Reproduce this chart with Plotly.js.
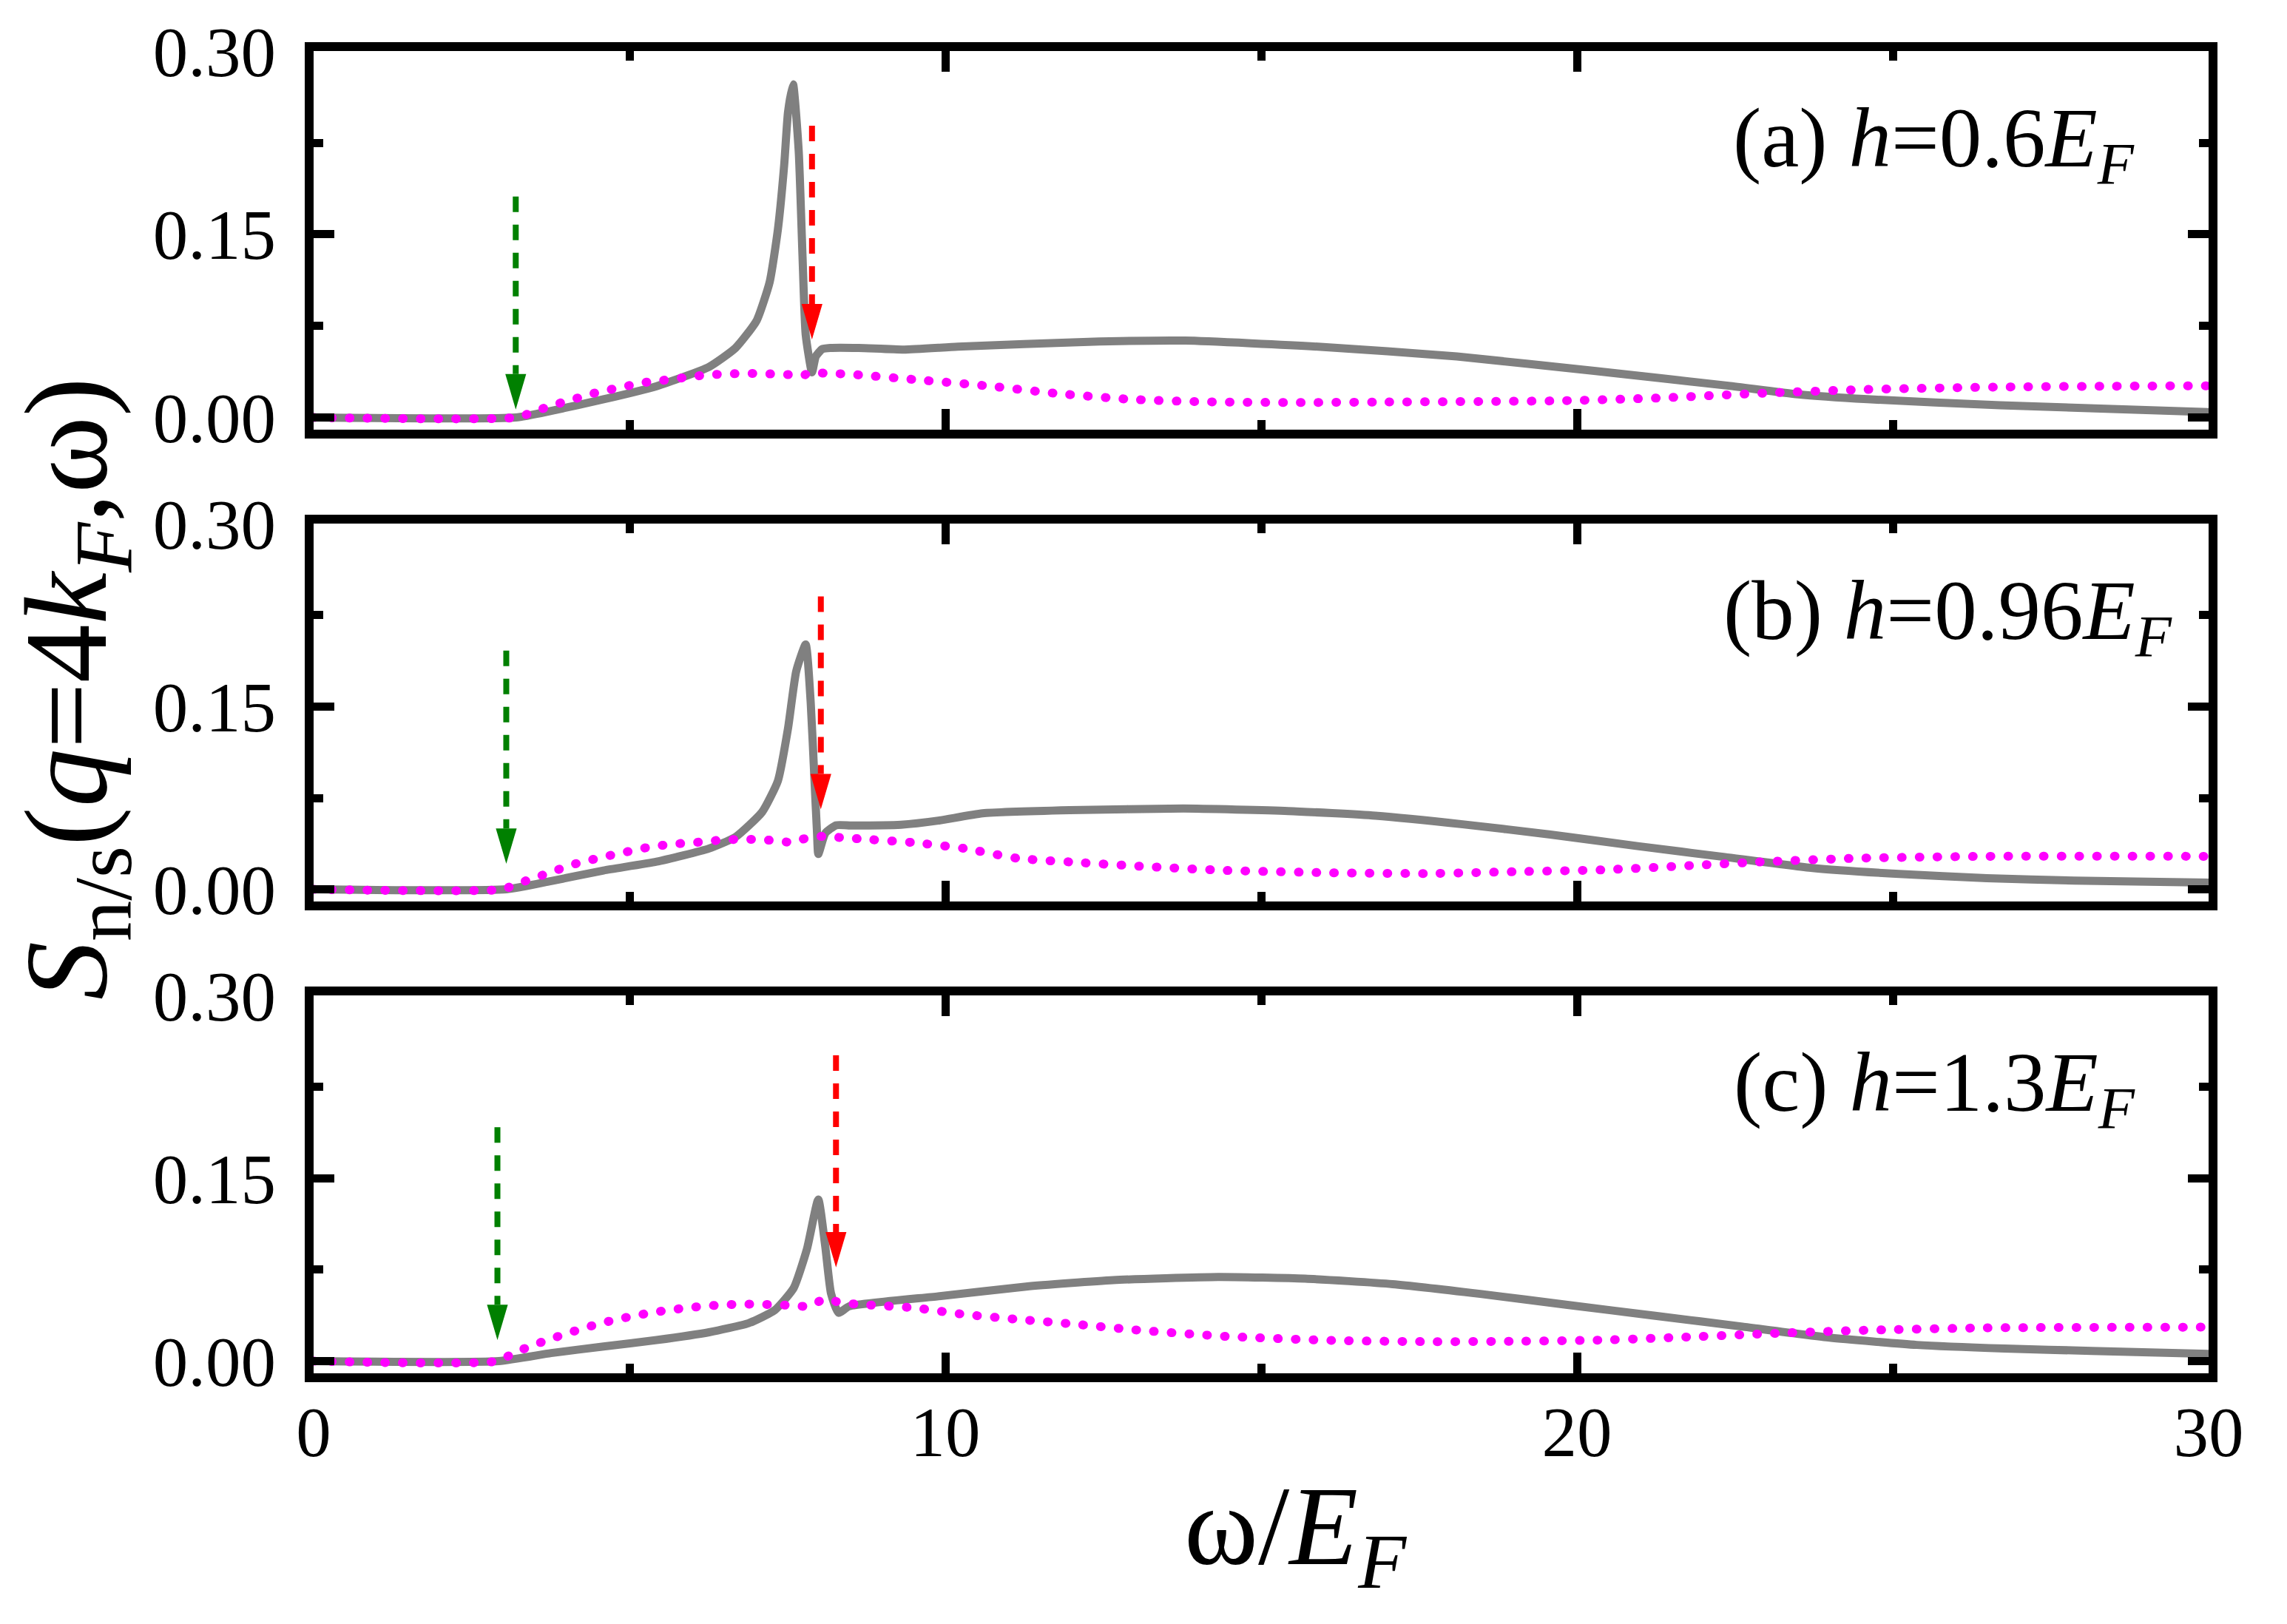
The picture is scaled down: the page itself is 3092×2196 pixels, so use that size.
<!DOCTYPE html>
<html>
<head>
<meta charset="utf-8">
<script src="https://cdn.plot.ly/plotly-3.0.1.min.js"></script>
<style>
  html, body { margin: 0; padding: 0; background: #fff; }
  #chart { width: 3092px; height: 2196px; }
  /* round caps turn the tiny dashes of the magenta curve into dots */
  path.js-line[style*="255, 0, 255"] { stroke-linecap: round; }
</style>
</head>
<body>
<div id="chart"></div>
<script>
// omega / E_F values, one set per panel
const grayXA = [0, 3.2, 3.76, 4.59, 5.43, 6.26, 6.68, 7.01, 7.22, 7.35, 7.45, 7.51, 7.59, 7.68, 7.74, 7.79, 7.89, 7.95, 8.05, 8.18, 8.63, 9.35, 10.2, 12.27, 13.8, 15.9, 18.1, 20.3, 22.4, 23.5, 24.6, 26.7, 30];
const grayYA = [0, 0, 0.0054, 0.0149, 0.0257, 0.0415, 0.057, 0.079, 0.111, 0.154, 0.207, 0.25, 0.273, 0.218, 0.132, 0.068, 0.037, 0.05, 0.056, 0.057, 0.057, 0.0556, 0.058, 0.062, 0.063, 0.058, 0.050, 0.038, 0.026, 0.019, 0.015, 0.010, 0.0045];
const pinkXA = [0, 3.2, 3.45, 3.72, 3.98, 4.25, 4.52, 4.80, 5.07, 5.35, 5.63, 5.91, 6.19, 6.47, 6.75, 7.03, 7.31, 7.59, 7.75, 7.87, 8.14, 8.42, 9.54, 10.65, 11.77, 12.9, 14.0, 15.4, 17.0, 19.7, 21.3, 22.96, 24.6, 26.7, 28.5, 30];
const pinkYA = [0, 0, 0.004, 0.009, 0.013, 0.017, 0.021, 0.024, 0.027, 0.0296, 0.031, 0.033, 0.0347, 0.0356, 0.036, 0.036, 0.0356, 0.035, 0.0345, 0.037, 0.036, 0.0357, 0.031, 0.026, 0.0197, 0.015, 0.013, 0.0123, 0.0127, 0.0137, 0.016, 0.020, 0.023, 0.025, 0.0257, 0.026];

const grayXB = [0, 3.05, 3.76, 4.59, 5.43, 6.26, 6.68, 7.1, 7.35, 7.51, 7.64, 7.79, 7.87, 7.93, 7.97, 7.99, 8.10, 8.27, 8.52, 9.3, 9.89, 10.59, 11.97, 13.77, 15.43, 16.81, 18.19, 19.58, 20.96, 22.34, 23.73, 25.1, 26.49, 27.87, 30];
const grayYB = [0, 0, 0.0068, 0.0155, 0.0227, 0.0335, 0.043, 0.0634, 0.089, 0.132, 0.179, 0.201, 0.153, 0.089, 0.046, 0.029, 0.046, 0.0526, 0.0524, 0.053, 0.0564, 0.0624, 0.065, 0.0663, 0.0643, 0.0604, 0.0534, 0.045, 0.0355, 0.0265, 0.0175, 0.0126, 0.0092, 0.0072, 0.0055];
const pinkXB = [0, 3.0, 3.17, 3.44, 3.70, 3.97, 4.24, 4.52, 4.79, 5.07, 5.34, 5.62, 5.89, 6.18, 6.46, 6.74, 7.02, 7.30, 7.58, 7.80, 8.07, 8.34, 8.65, 9.49, 10.31, 11.14, 11.97, 13.08, 14.46, 16.12, 17.64, 19.02, 20.4, 21.79, 22.89, 24.41, 26.49, 30];
const pinkYB = [0, 0, 0.0036, 0.0084, 0.013, 0.018, 0.0224, 0.0257, 0.029, 0.032, 0.035, 0.0367, 0.038, 0.039, 0.0405, 0.041, 0.041, 0.040, 0.0386, 0.042, 0.0435, 0.0425, 0.0414, 0.0384, 0.0335, 0.0255, 0.0225, 0.019, 0.0155, 0.0136, 0.013, 0.0145, 0.016, 0.0195, 0.0225, 0.0255, 0.0271, 0.0271];

const grayXC = [0, 2.93, 3.76, 4.59, 5.43, 6.26, 6.89, 7.30, 7.6, 7.81, 7.99, 8.1, 8.19, 8.31, 8.48, 9.89, 11.28, 12.66, 14.32, 15.7, 17.08, 18.47, 19.85, 21.24, 22.62, 24.0, 25.38, 26.77, 28.15, 30];
const grayYC = [0, 0, 0.0066, 0.012, 0.0173, 0.0237, 0.0312, 0.0418, 0.06, 0.092, 0.1327, 0.0942, 0.0558, 0.0397, 0.045, 0.0532, 0.0612, 0.0665, 0.0691, 0.0677, 0.0632, 0.0552, 0.0462, 0.0372, 0.0283, 0.0193, 0.0133, 0.0103, 0.0084, 0.006];
const pinkXC = [0, 2.90, 3.17, 3.42, 3.70, 3.97, 4.23, 4.51, 4.78, 5.06, 5.34, 5.61, 5.89, 6.17, 6.45, 6.73, 7.01, 7.29, 7.57, 7.85, 8.09, 8.36, 8.65, 9.49, 10.31, 11.14, 11.97, 13.08, 14.46, 16.12, 17.64, 19.02, 20.4, 21.79, 23.17, 24.55, 26.49, 30];
const pinkYC = [0, 0, 0.0066, 0.012, 0.0173, 0.022, 0.0263, 0.0305, 0.034, 0.037, 0.0397, 0.0418, 0.0436, 0.045, 0.0461, 0.0467, 0.0467, 0.0463, 0.0457, 0.045, 0.051, 0.0478, 0.0466, 0.0438, 0.0383, 0.0343, 0.0307, 0.0253, 0.0203, 0.017, 0.016, 0.0163, 0.0173, 0.0199, 0.0229, 0.0253, 0.0273, 0.0279];

// arrows: position, start height, tip height (panel a, b, c)
const greenX = [3.20, 3.05, 2.91];
const greenTop = [0.181, 0.196, 0.192];
const greenTip = [0.0066, 0.021, 0.0173];
const redX = [7.89, 8.03, 8.27];
const redTop = [0.239, 0.2405, 0.251];
const redTip = [0.064, 0.0657, 0.077];

const panelLabels = ['(a)', '(b)', '(c)'];
const fieldValues = ['0.6', '0.96', '1.3'];

const xTickVals = [0, 10, 20, 30];
const yTickVals = [0, 0.15, 0.30];
const yTickText = ['0.00', '0.15', '0.30'];

const FONT = '"Liberation Serif", "Times New Roman", serif';
const GRAY = '#808080';
const PINK = '#ff00ff';
const GREEN = '#008000';
const RED = '#ff0000';
const HEAD_LEN = 0.029;   // arrow head length in y units
const HEAD_HALF = 0.165;  // arrow head half width in x units

const series = [
  [grayXA, grayYA, pinkXA, pinkYA],
  [grayXB, grayYB, pinkXB, pinkYB],
  [grayXC, grayYC, pinkXC, pinkYC],
];
const labelX = [22.45, 22.3, 22.46];

const traces = [];
const shapes = [];
const annotations = [];

series.forEach((s, i) => {
  const xa = i === 0 ? 'x' : 'x' + (i + 1);
  const ya = i === 0 ? 'y' : 'y' + (i + 1);
  traces.push({ x: s[0], y: s[1], xaxis: xa, yaxis: ya, type: 'scatter', mode: 'lines',
    line: { color: GRAY, width: 11, shape: 'spline', smoothing: 0.5 }, hoverinfo: 'skip' });
  traces.push({ x: s[2], y: s[3], xaxis: xa, yaxis: ya, type: 'scatter', mode: 'lines',
    line: { color: PINK, width: 12, dash: '1px,23px', shape: 'spline', smoothing: 0.6 }, hoverinfo: 'skip' });

  [[greenX, greenTop, greenTip, GREEN], [redX, redTop, redTip, RED]].forEach(([ax, top, tip, col]) => {
    const base = tip[i] + HEAD_LEN;
    traces.push({ x: [ax[i], ax[i]], y: [top[i], base], xaxis: xa, yaxis: ya, type: 'scatter',
      mode: 'lines', line: { color: col, width: 8, dash: '21px,17px' }, hoverinfo: 'skip' });
    shapes.push({ type: 'path', xref: xa, yref: ya, fillcolor: col, line: { width: 0 },
      path: `M${ax[i] - HEAD_HALF},${base} L${ax[i] + HEAD_HALF},${base} L${ax[i]},${tip[i]} Z` });
  });

  annotations.push({
    xref: xa, yref: ya, x: labelX[i], y: 0.224, xanchor: 'left', yanchor: 'middle', showarrow: false,
    text: `${panelLabels[i]} <i>h</i>=${fieldValues[i]}<i>E</i><sub><i>F</i></sub>`,
    font: { family: FONT, size: 115, color: 'black' },
  });
});

annotations.push({
  xref: 'paper', yref: 'paper', x: 0.518, y: -0.122, xanchor: 'center', yanchor: 'middle', showarrow: false,
  text: '\u03c9/<i>E</i><sub><i>F</i></sub>', font: { family: FONT, size: 152, color: 'black' },
});
annotations.push({
  xref: 'paper', yref: 'paper', x: -0.126, y: 0.518, xanchor: 'center', yanchor: 'middle', showarrow: false,
  textangle: -90,
  text: '<i>S</i><sub>n/s</sub>(<i>q</i>=4<i>k</i><sub><i>F</i></sub>,\u03c9)',
  font: { family: FONT, size: 158, color: 'black' },
});

const axisBase = {
  showline: true, linecolor: 'black', linewidth: 12, mirror: 'ticks',
  ticks: 'inside', ticklen: 28, tickwidth: 11, tickcolor: 'black',
  showgrid: false, zeroline: false, fixedrange: true,
  tickfont: { family: FONT, size: 95, color: 'black' },
};
function xAxis(domainAnchor, labels) {
  return Object.assign({}, axisBase, {
    anchor: domainAnchor, range: [0, 30], tickmode: 'array', tickvals: xTickVals,
    showticklabels: labels, ticklabelstandoff: -14,
    minor: { tickmode: 'linear', tick0: 0, dtick: 5, ticks: 'inside', ticklen: 13, tickwidth: 11, tickcolor: 'black', showgrid: false },
  });
}
function yAxis(domain, anchor) {
  return Object.assign({}, axisBase, {
    domain: domain, anchor: anchor, range: [-0.01, 0.3002], tickmode: 'array',
    tickvals: yTickVals, ticktext: yTickText, ticklabelstandoff: 20,
    minor: { tickmode: 'linear', tick0: 0, dtick: 0.075, ticks: 'inside', ticklen: 13, tickwidth: 11, tickcolor: 'black', showgrid: false },
  });
}

const layout = {
  width: 3092, height: 2196,
  paper_bgcolor: 'white', plot_bgcolor: 'white',
  margin: { l: 424, r: 106, t: 69, b: 339, autoexpand: false },
  showlegend: false,
  xaxis: xAxis('y', false),
  xaxis2: xAxis('y2', false),
  xaxis3: xAxis('y3', true),
  yaxis: yAxis([0.7136, 1], 'x'),
  yaxis2: yAxis([0.3568, 0.6426], 'x2'),
  yaxis3: yAxis([0, 0.2858], 'x3'),
  shapes: shapes,
  annotations: annotations,
};

Plotly.newPlot('chart', traces, layout, { displayModeBar: false, staticPlot: true });
</script>
</body>
</html>
